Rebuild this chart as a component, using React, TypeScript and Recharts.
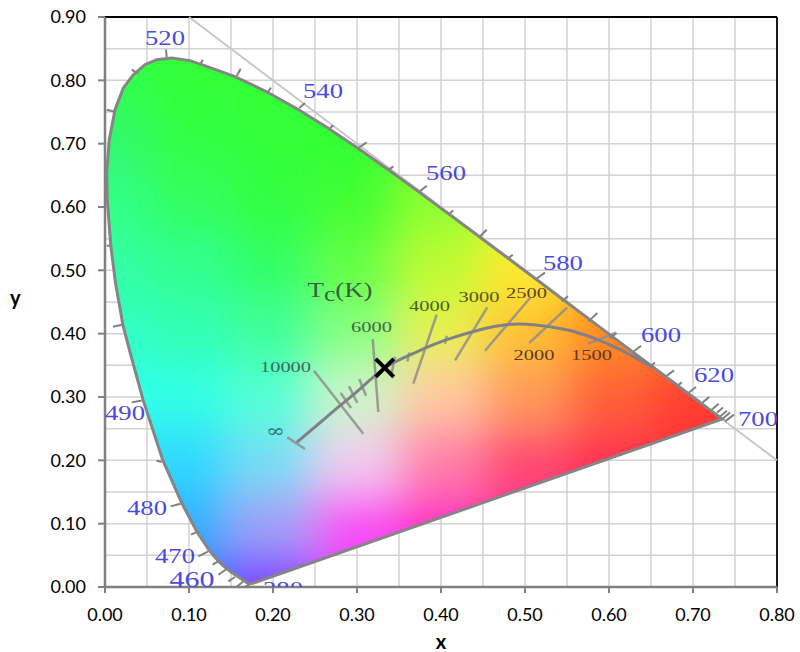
import {
  ScatterChart,
  Scatter,
  XAxis,
  YAxis,
  CartesianGrid,
  ReferenceArea,
  ReferenceLine,
} from "recharts";

const axisXTicks = [0, 0.1, 0.2, 0.3, 0.4, 0.5, 0.6, 0.7, 0.8];
const axisYTicks = [0, 0.1, 0.2, 0.3, 0.4, 0.5, 0.6, 0.7, 0.8, 0.9];
const gridX = [0.05, 0.1, 0.15, 0.2, 0.25, 0.3, 0.35, 0.4, 0.45, 0.5, 0.55, 0.6, 0.65, 0.7, 0.75];
const gridY = [0.05, 0.1, 0.15, 0.2, 0.25, 0.3, 0.35, 0.4, 0.45, 0.5, 0.55, 0.6, 0.65, 0.7, 0.75, 0.8, 0.85];

// spectral locus, 380 nm round to 700 nm, closed by the purple line
const locus = [
  [0.1741, 0.005], [0.1714, 0.0051], [0.1689, 0.0069], [0.1644, 0.0109], [0.1566, 0.0177],
  [0.151, 0.0227], [0.144, 0.0297], [0.1355, 0.0399], [0.1241, 0.0578], [0.1096, 0.0868],
  [0.0913, 0.1327], [0.0687, 0.2007], [0.0454, 0.295], [0.032, 0.36], [0.0215, 0.4127],
  [0.0125, 0.48], [0.0068, 0.54], [0.0027, 0.6117], [0.002, 0.6545], [0.0051, 0.7063],
  [0.0119, 0.7537], [0.0218, 0.788], [0.0337, 0.8089], [0.0476, 0.8247], [0.0615, 0.8326],
  [0.0794, 0.8353], [0.1012, 0.8311], [0.1211, 0.8221], [0.1547, 0.8059], [0.1929, 0.7816],
  [0.2296, 0.7543], [0.2658, 0.7243], [0.3016, 0.6923], [0.3373, 0.6589], [0.3731, 0.6245],
  [0.4087, 0.5896], [0.4441, 0.5547], [0.4788, 0.5202], [0.5125, 0.4866], [0.5448, 0.4544],
  [0.5752, 0.4242], [0.6029, 0.3965], [0.627, 0.3725], [0.6482, 0.3514], [0.6658, 0.334],
  [0.6915, 0.3083], [0.7079, 0.292], [0.719, 0.2809], [0.726, 0.274], [0.73, 0.27],
  [0.7347, 0.2653], [0.1741, 0.005],
];

const planck = [
  [0.2282, 0.2283], [0.258, 0.2617], [0.2798, 0.2863], [0.3071, 0.3169], [0.3333, 0.3463],
  [0.3592, 0.3641], [0.3789, 0.3758], [0.4068, 0.3905], [0.4464, 0.4063], [0.4782, 0.4142],
  [0.5095, 0.4142], [0.5496, 0.4063], [0.5813, 0.3932], [0.6131, 0.3747], [0.6524, 0.3463],
];

const isotherms = [
  [0.217, 0.2362, 0.2381, 0.2179], [0.2488, 0.3415, 0.3075, 0.2421], [0.2806, 0.3063, 0.2929, 0.2826],
  [0.2905, 0.3168, 0.3004, 0.2905], [0.3027, 0.3284, 0.3107, 0.3021], [0.3187, 0.3916, 0.3254, 0.2763],
  [0.3452, 0.3636, 0.3413, 0.3384], [0.3623, 0.3704, 0.3599, 0.3562], [0.3949, 0.43, 0.367, 0.321],
  [0.4068, 0.3968, 0.4048, 0.3842], [0.4551, 0.4415, 0.4167, 0.3578], [0.506, 0.4563, 0.4524, 0.3731],
  [0.5504, 0.4415, 0.5051, 0.3853], [0.6083, 0.4015, 0.575, 0.3842],
];

const wavelengthTicks = [
  [0.0726, 0.8484, 0.0735, 0.8358], [0.1163, 0.8326, 0.1139, 0.8263], [0.1615, 0.8184, 0.1568, 0.8074],
  [0.1976, 0.7884, 0.1937, 0.781], [0.2381, 0.7642, 0.2313, 0.7564], [0.2718, 0.7289, 0.2679, 0.7248],
  [0.3115, 0.702, 0.3015, 0.6932], [0.3432, 0.6641, 0.3381, 0.6589], [0.383, 0.6337, 0.375, 0.6247],
  [0.4146, 0.5947, 0.4087, 0.5879], [0.4544, 0.5642, 0.4456, 0.5527], [0.4854, 0.5247, 0.4789, 0.5179],
  [0.5238, 0.4963, 0.5131, 0.4863], [0.5512, 0.4592, 0.5437, 0.451], [0.5861, 0.4327, 0.5754, 0.4194],
  [0.6092, 0.4011, 0.6012, 0.3932], [0.6381, 0.381, 0.627, 0.3695], [0.6548, 0.3546, 0.6488, 0.3483],
  [0.6774, 0.342, 0.6667, 0.3316], [0.6865, 0.3231, 0.6806, 0.3168], [0.7036, 0.3158, 0.6944, 0.3063],
  [0.7194, 0.3, 0.7115, 0.2915], [0.7306, 0.2894, 0.7222, 0.28], [0.7357, 0.2836, 0.7286, 0.2752],
  [0.7405, 0.2784, 0.731, 0.2681], [0.744, 0.2753, 0.7345, 0.2649], [0.7488, 0.2721, 0.7381, 0.2615],
  [0.0318, 0.8168, 0.0396, 0.8105], [0.002, 0.7537, 0.0131, 0.75], [0.002, 0.5389, 0.0079, 0.5389],
  [0.0095, 0.411, 0.0202, 0.4142], [0.0318, 0.2915, 0.0437, 0.2946], [0.0615, 0.1994, 0.0675, 0.1974],
  [0.0782, 0.1273, 0.09, 0.1315], [0.1024, 0.0826, 0.1083, 0.0862], [0.1111, 0.0483, 0.123, 0.0562],
  [0.1282, 0.0352, 0.1349, 0.0404], [0.1349, 0.0194, 0.1449, 0.0284], [0.1468, 0.0088, 0.1548, 0.0158],
  [0.1568, 0.0005, 0.1646, 0.0088], [0.1667, 0.0005, 0.1718, 0.0036],
];

const wavelengthLabels = [
  { x: 0.0714, y: 0.8674, text: "520" }, { x: 0.2595, y: 0.7837, text: "540" },
  { x: 0.406, y: 0.6542, text: "560" }, { x: 0.5452, y: 0.5121, text: "580" },
  { x: 0.6619, y: 0.3984, text: "600" }, { x: 0.725, y: 0.3352, text: "620" },
  { x: 0.7774, y: 0.2658, text: "700" }, { x: 0.0238, y: 0.2752, text: "490" },
  { x: 0.05, y: 0.1252, text: "480" }, { x: 0.0833, y: 0.0494, text: "470" },
  { x: 0.1036, y: 0.0131, text: "460" }, { x: 0.2119, y: -0.0036, text: "380" },
];

const tempLabels = [
  { x: 0.2149, y: 0.3479, text: "10000", color: "#3b6a62" }, { x: 0.3173, y: 0.411, text: "6000", color: "#3b6b48" },
  { x: 0.3863, y: 0.4442, text: "4000", color: "#4a5f22" }, { x: 0.4452, y: 0.4584, text: "3000", color: "#5a5522" },
  { x: 0.5018, y: 0.4647, text: "2500", color: "#5a4522" }, { x: 0.5107, y: 0.3668, text: "2000", color: "#5b3a24" },
  { x: 0.5792, y: 0.3668, text: "1500", color: "#5b3a24" },
];
const infinityLabel = [{ x: 0.203, y: 0.2468 }];
const tcLabel = [{ x: 0.2798, y: 0.4679 }];
const marker = [{ x: 0.333, y: 0.346 }];

// colours, on a 0.1 grid, top row y = 0.9, bottom row y = 0
const colourRows = [
  ["#33ff40", "#33ff36", "#33ff33", "#33ff33", "#44ff30", "#66ff30", "#88ff30", "#88ff30", "#88ff30"],
  ["#33ff50", "#30ff38", "#30ff35", "#33ff33", "#55ff30", "#88ff30", "#aaff30", "#aaff30", "#aaff30"],
  ["#33f870", "#30ff45", "#30ff38", "#33ff33", "#66ff30", "#a0ff30", "#c8ff30", "#c8ff30", "#c8ff30"],
  ["#33ff88", "#33ff60", "#30ff42", "#44ff30", "#90ff30", "#d0fa30", "#f0f030", "#f0f030", "#f0f030"],
  ["#33ffa5", "#33ff90", "#33ff66", "#66ff44", "#c0fa30", "#ffe830", "#ffb020", "#ffa020", "#ffa020"],
  ["#33ffc8", "#33ffb5", "#40ff99", "#88ff80", "#e8f050", "#ffc030", "#ff8a20", "#ff7020", "#ff6020"],
  ["#33ffee", "#33ffe4", "#55ffd4", "#ccf4c8", "#ffc8a0", "#ff9a58", "#ff6035", "#ff3c30", "#ff3030"],
  ["#33ddff", "#33d8ff", "#77ddf5", "#f0ccee", "#ff80a8", "#ff4a70", "#ff3050", "#ff3038", "#ff3030"],
  ["#33b0ff", "#33b0ff", "#a0a0f8", "#f850f4", "#ff30c0", "#ff3090", "#ff3070", "#ff3050", "#ff3040"],
  ["#3366ff", "#3366ff", "#8040ff", "#e040ff", "#ff30d0", "#ff30a0", "#ff3070", "#ff3050", "#ff3040"],
];

const toPoints = (rows: number[][]) => rows.map(([x, y]) => ({ x, y }));

// the area's rectangle is the whole plot, so it gives the pixel scale for the fill
const GamutFill = (props: any) => {
  const { x, y, width, height } = props;
  const px = (v: number) => x + (v / 0.8) * width;
  const py = (v: number) => y + height - (v / 0.9) * height;
  const outline = locus.map(([a, b]) => `${px(a)},${py(b)}`).join(" ");
  return (
    <g>
      <defs>
        <clipPath id="gamutClip">
          <polygon points={outline} />
        </clipPath>
        <filter id="gamutBlur" filterUnits="userSpaceOnUse" x={x - 400} y={y - 400} width={width + 800} height={height + 800}>
          <feGaussianBlur stdDeviation="22" />
        </filter>
      </defs>
      <g clipPath="url(#gamutClip)">
        <g filter="url(#gamutBlur)">
          {colourRows.map((row, r) =>
            row.map((colour, c) => {
              const x0 = c === 0 ? -0.4 : c * 0.1 - 0.05;
              const x1 = c === row.length - 1 ? 1.2 : c * 0.1 + 0.05;
              const yVal = 0.9 - r * 0.1;
              const y1 = r === 0 ? 1.3 : yVal + 0.05;
              const y0 = r === colourRows.length - 1 ? -0.4 : yVal - 0.05;
              return (
                <rect
                  key={`${r}-${c}`}
                  x={px(x0)}
                  y={py(y1)}
                  width={px(x1) - px(x0)}
                  height={py(y0) - py(y1)}
                  fill={colour}
                />
              );
            })
          )}
        </g>
      </g>
    </g>
  );
};

const noDot = () => <g />;

const BlueLabel = (props: any) => {
  const big = props.payload.text === "460";
  return (
    <text
      x={props.cx}
      y={props.cy}
      dy="0.35em"
      textAnchor="middle"
      fontFamily="Liberation Serif"
      fontSize={big ? 23 : 20}
      fill="#4a4ae0"
      textLength={big ? 45 : 40}
      lengthAdjust="spacingAndGlyphs"
    >
      {props.payload.text}
    </text>
  );
};

const TempLabel = (props: any) => (
  <text
    x={props.cx}
    y={props.cy}
    dy="0.35em"
    textAnchor="middle"
    fontFamily="Liberation Serif"
    fontSize={15}
    fill={props.payload.color}
    textLength={props.payload.text.length * 10.2}
    lengthAdjust="spacingAndGlyphs"
  >
    {props.payload.text}
  </text>
);

const InfinityLabel = (props: any) => (
  <text
    x={props.cx}
    y={props.cy}
    dy="0.35em"
    textAnchor="middle"
    fontFamily="DejaVu Serif"
    fontSize={18}
    fill="#2f6f70"
    textLength={19}
    lengthAdjust="spacingAndGlyphs"
  >
    ∞
  </text>
);

const TcLabel = (props: any) => (
  <text
    x={props.cx}
    y={props.cy}
    dy="0.3em"
    textAnchor="middle"
    fontFamily="Liberation Serif"
    fontSize={21}
    fill="#3a5f44"
    textLength={65}
    lengthAdjust="spacingAndGlyphs"
  >
    T
    <tspan dy={4} fontSize={20}>c</tspan>
    <tspan dy={-4}>(K)</tspan>
  </text>
);

const CrossMark = (props: any) => {
  const { cx, cy } = props;
  return (
    <g stroke="#000" strokeWidth={4}>
      <line x1={cx - 9} y1={cy - 9} x2={cx + 9} y2={cy + 9} />
      <line x1={cx - 9} y1={cy + 9} x2={cx + 9} y2={cy - 9} />
    </g>
  );
};

const tickStyle = { fill: "#000", fontSize: 18, fontFamily: "Lato" };
const axisLine = { stroke: "#808080", strokeWidth: 2.5 };
const titleStyle = { fill: "#000", fontSize: 20, fontWeight: 700, fontFamily: "Lato" };

const App = () => {
  return (
    <div style={{ position: "absolute", left: 0, top: 0, width: 800, height: 652, background: "#fff" }}>
      <ScatterChart width={800} height={652} margin={{ top: 17, right: 23, bottom: 35, left: 45 }}>
        <CartesianGrid stroke="#d2d2d2" strokeWidth={1.5} horizontalValues={gridY} verticalValues={gridX} />
        <XAxis
          type="number"
          dataKey="x"
          domain={[0, 0.8]}
          allowDataOverflow
          ticks={axisXTicks}
          tickFormatter={(v: number) => v.toFixed(2)}
          tick={tickStyle}
          tickLine={{ stroke: "#808080", strokeWidth: 2 }}
          tickSize={6}
          tickMargin={15}
          axisLine={axisLine}
          height={30}
          label={{ value: "x", position: "insideBottom", offset: -32, style: titleStyle }}
        />
        <YAxis
          type="number"
          dataKey="y"
          domain={[0, 0.9]}
          allowDataOverflow
          ticks={axisYTicks}
          tickFormatter={(v: number) => v.toFixed(2)}
          tick={tickStyle}
          tickLine={{ stroke: "#808080", strokeWidth: 2 }}
          tickSize={7}
          tickMargin={12}
          axisLine={axisLine}
          width={60}
          label={{ value: "y", position: "insideLeft", offset: -35, dy: -4, style: titleStyle }}
        />
        <ReferenceLine y={0.9} stroke="#000" strokeWidth={1.8} />
        <ReferenceLine x={0.8} stroke="#000" strokeWidth={1.8} />
        <ReferenceLine segment={[{ x: 0.1, y: 0.9 }, { x: 0.8, y: 0.2 }]} stroke="#c4c4c4" strokeWidth={1.8} />
        <ReferenceArea x1={0} x2={0.8} y1={0} y2={0.9} shape={GamutFill} />
        {wavelengthTicks.map(([x1, y1, x2, y2], i) => (
          <ReferenceLine key={`w${i}`} segment={[{ x: x1, y: y1 }, { x: x2, y: y2 }]} stroke="#808080" strokeWidth={2} />
        ))}
        {isotherms.map(([x1, y1, x2, y2], i) => (
          <ReferenceLine key={`t${i}`} segment={[{ x: x1, y: y1 }, { x: x2, y: y2 }]} stroke="#8e8e8e" strokeOpacity={0.85} strokeWidth={2.5} />
        ))}
        <Scatter data={toPoints(locus)} line={{ stroke: "#858585", strokeWidth: 3 }} shape={noDot} isAnimationActive={false} />
        <Scatter
          data={toPoints(planck)}
          line={{ stroke: "#808088", strokeWidth: 3 }}
          lineJointType="natural"
          shape={noDot}
          isAnimationActive={false}
        />
        <Scatter data={wavelengthLabels} shape={BlueLabel} isAnimationActive={false} />
        <Scatter data={tempLabels} shape={TempLabel} isAnimationActive={false} />
        <Scatter data={infinityLabel} shape={InfinityLabel} isAnimationActive={false} />
        <Scatter data={tcLabel} shape={TcLabel} isAnimationActive={false} />
        <Scatter data={marker} shape={CrossMark} isAnimationActive={false} />
      </ScatterChart>
    </div>
  );
};

export default App;
